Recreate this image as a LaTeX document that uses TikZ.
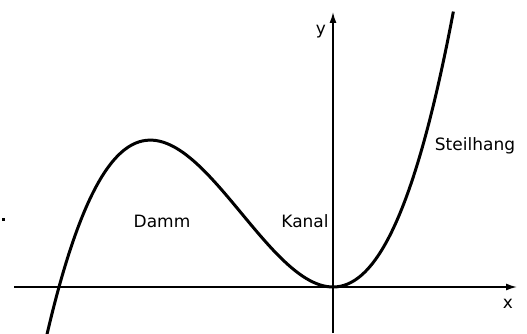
\documentclass[tikz,border=0pt]{standalone}
\usepackage{fontspec}
\setmainfont{DejaVu Sans}
\usetikzlibrary{arrows.meta}
\begin{document}
\begin{tikzpicture}[x=1pt,y=-1pt,
  axis/.style={line width=1.5pt,-{Latex[length=11pt,width=7pt]}},
  curve/.style={line width=3pt},
  lbl/.style={inner sep=0pt,anchor=base,font=\fontsize{17}{20}\selectfont}]
\useasboundingbox (0,0) rectangle (527,334);
\coordinate (xl) at (14,287);
\coordinate (xr) at (517,287);
\coordinate (yb) at (333,333);
\coordinate (yt) at (333,12);
\draw[axis] (xl) -- (xr);
\draw[axis] (yb) -- (yt);
\draw[curve] plot[domain=-2.86:1.205,samples=120,smooth] ({333+100*\x},{287-48.2*\x*\x*(\x+2.74)});
\node[lbl] (xlab) at (508,308) {x};
\node[lbl] (ylab) at (321,35) {y};
\node[lbl] (damm) at (162,227) {Damm};
\node[lbl] (kanal) at (305,227) {Kanal};
\node[lbl] (steil) at (475,150) {Steilhang};
\fill (2,218) rectangle (4.5,220.5);
\end{tikzpicture}
\end{document}
